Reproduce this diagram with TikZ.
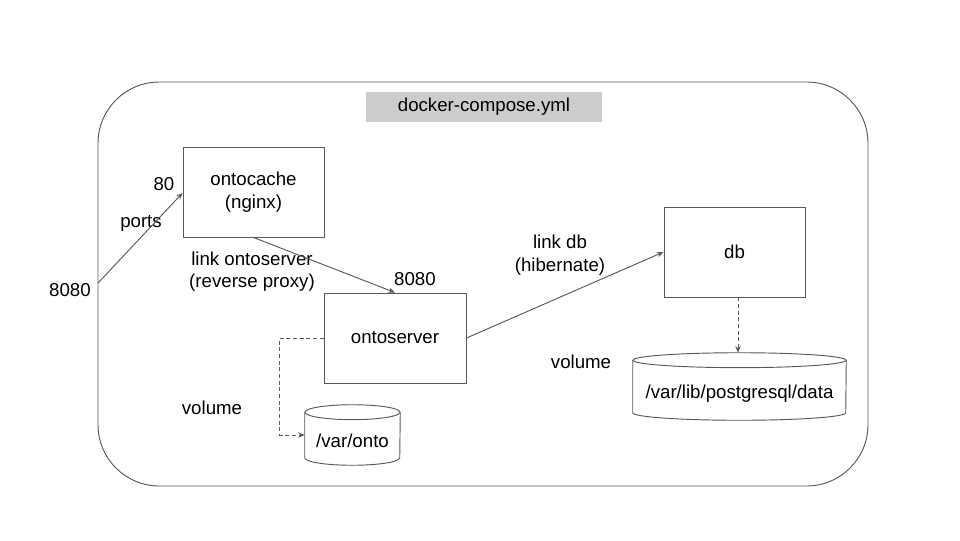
\documentclass[tikz,border=0pt]{standalone}
\usepackage{fontspec}
\setmainfont{Liberation Sans}
\usetikzlibrary{arrows.meta,calc}
\definecolor{lncol}{HTML}{595959}
\definecolor{titlefill}{HTML}{CCCCCC}
\tikzset{
  ln/.style={draw=lncol, line width=0.7pt},
  box/.style={ln, rectangle, inner sep=0pt, align=center},
  txt/.style={inner sep=0pt, align=center, text=black},
  arr/.style={ln, -{Stealth[length=5pt,width=4pt]}},
  darr/.style={ln, dashed, dash pattern=on 3pt off 2pt, -{Stealth[length=5pt,width=4pt]}},
}
\begin{document}
\begin{tikzpicture}[x=0.75pt,y=-0.75pt,font=\fontsize{14}{17}\selectfont]
\fill[white] (0,0) rectangle (960,540);
\useasboundingbox (0,0) rectangle (960,540);
% outer container
\draw[ln, rounded corners=46pt] (98,82) rectangle (868,486);
\coordinate (outerleft) at (98,283);
% title
\node[fill=titlefill, minimum width=177pt, minimum height=22.5pt, inner sep=0pt] (title) at (484,106.5) {docker-compose.yml};
% boxes
\node[box, minimum width=105.75pt, minimum height=67.5pt] (oc) at (253.5,192) {ontocache\\(nginx)};
\node[box, minimum width=106.5pt, minimum height=67.5pt] (os) at (395,338) {ontoserver};
\node[box, minimum width=105.75pt, minimum height=67.5pt] (db) at (734.5,252) {db};
% cylinders (bodies)
\node[minimum width=71.25pt, minimum height=45pt, inner sep=0pt] (onto) at (352.5,435) {};
\draw[ln] ([yshift=-5.6pt]onto.north west) -- ([yshift=5.6pt]onto.south west)
  arc[start angle=180,end angle=360,x radius=35.625pt,y radius=5.6pt]
  -- ([yshift=-5.6pt]onto.north east);
\draw[ln] ([yshift=-5.6pt]onto.north) ellipse[x radius=35.625pt,y radius=5.6pt];
\node[txt] (ontotxt) at ([yshift=-4.5pt]onto.center) {/var/onto};

\node[minimum width=159.75pt, minimum height=50.25pt, inner sep=0pt] (pg) at (739.5,386.5) {};
\draw[ln] ([yshift=-5.6pt]pg.north west) -- ([yshift=5.6pt]pg.south west)
  arc[start angle=180,end angle=360,x radius=79.875pt,y radius=5.6pt]
  -- ([yshift=-5.6pt]pg.north east);
\draw[ln] ([yshift=-5.6pt]pg.north) ellipse[x radius=79.875pt,y radius=5.6pt];
\node[txt] (pgtxt) at ([yshift=-5.6pt]pg.center) {/var/lib/postgresql/data};
% labels
\node[txt] (l8080a) at (70,290) {8080};
\node[txt] (l80) at (164,184) {80};
\node[txt] (lports) at (141,223) {ports};
\node[txt] (llinkos) at (252,271.5) {link ontoserver\\(reverse proxy)};
\node[txt] (l8080b) at (415,279) {8080};
\node[txt] (lvol1) at (212,408) {volume};
\node[txt] (llinkdb) at (560,255) {link db\\(hibernate)};
\node[txt] (lvol2) at (581,362) {volume};
% connectors
\draw[arr] (outerleft) -- (oc.west |- 0,193);
\draw[arr] (oc.south) -- (os.north);
\draw[arr] (os.east) -- (db.west);
\draw[darr] (os.west) -- ++(-44,0) |- (onto.west);
\draw[darr] ([xshift=2.6pt]db.south) -- ([xshift=2.6pt]db.south |- pg.north);
\end{tikzpicture}
\end{document}
